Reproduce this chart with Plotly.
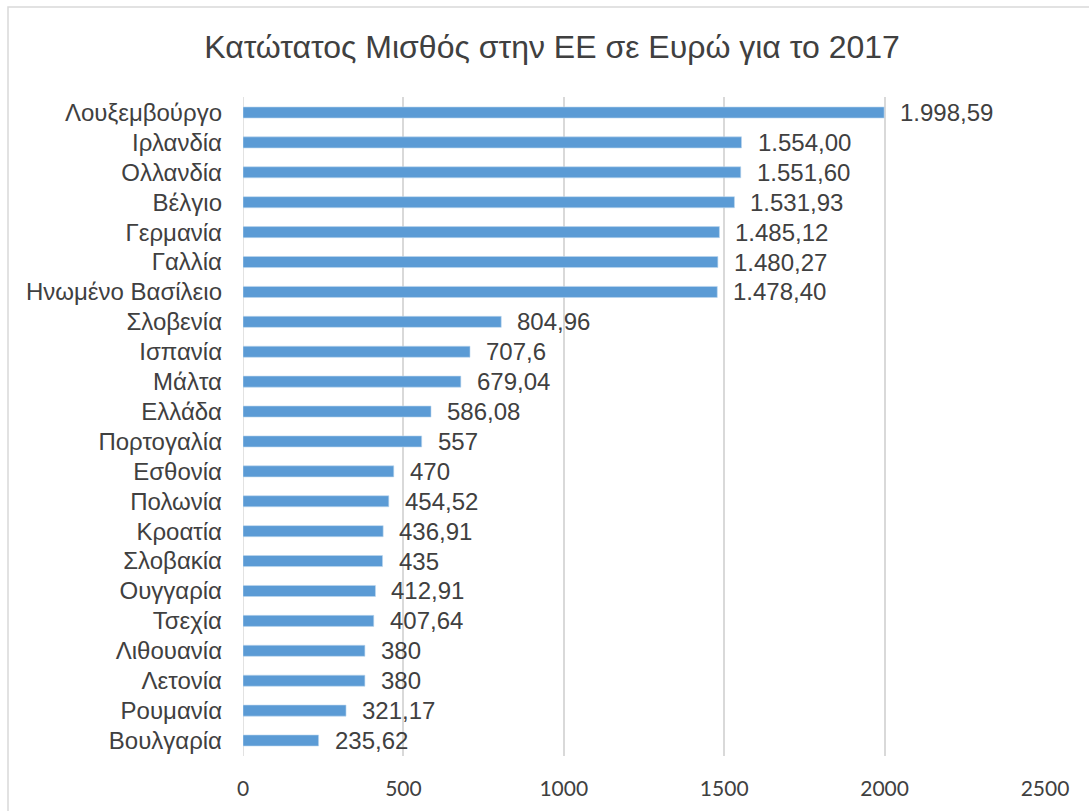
import plotly.graph_objects as go

countries = ["Λουξεμβούργο", "Ιρλανδία", "Ολλανδία", "Βέλγιο", "Γερμανία", "Γαλλία",
             "Ηνωμένο Βασίλειο", "Σλοβενία", "Ισπανία", "Μάλτα", "Ελλάδα", "Πορτογαλία",
             "Εσθονία", "Πολωνία", "Κροατία", "Σλοβακία", "Ουγγαρία", "Τσεχία",
             "Λιθουανία", "Λετονία", "Ρουμανία", "Βουλγαρία"]
wages = [1998.59, 1554.00, 1551.60, 1531.93, 1485.12, 1480.27, 1478.40, 804.96, 707.6,
         679.04, 586.08, 557, 470, 454.52, 436.91, 435, 412.91, 407.64, 380, 380,
         321.17, 235.62]
labels = ["1.998,59", "1.554,00", "1.551,60", "1.531,93", "1.485,12", "1.480,27",
          "1.478,40", "804,96", "707,6", "679,04", "586,08", "557", "470", "454,52",
          "436,91", "435", "412,91", "407,64", "380", "380", "321,17", "235,62"]
x_ticks = [0, 500, 1000, 1500, 2000, 2500]

fig = go.Figure()
fig.add_trace(go.Bar(
    y=countries, x=wages, orientation="h",
    marker=dict(color="#5B9BD5", line=dict(color="#BDD7EE", width=0.6)),
    width=0.37, hoverinfo="skip",
))

for c, v, t in zip(countries, wages, labels):
    fig.add_annotation(x=v, y=c, text=t, showarrow=False, xanchor="left",
                       xshift=14, font=dict(family="Liberation Sans, Arial", size=24, color="#404040"))

fig.add_shape(type="rect", xref="paper", yref="paper",
              x0=(8 - 243) / 802, x1=(1110 - 243) / 802,
              y0=1 - (840 - 97) / 659, y1=1 + (97 - 7) / 659,
              line=dict(color="#D9D9D9", width=1.5), fillcolor="rgba(0,0,0,0)", layer="below")

fig.update_layout(
    width=1089, height=811,
    margin=dict(l=243, r=44, t=97, b=55),
    paper_bgcolor="white", plot_bgcolor="white",
    showlegend=False,
    title=dict(text="Κατώτατος Μισθός στην ΕΕ σε Ευρώ για το 2017",
               x=552 / 1089, xanchor="center", y=1 - 47 / 811, yanchor="middle",
               font=dict(family="Liberation Sans, Arial", size=32, color="#404040")),
    xaxis=dict(range=[0, 2500], tickvals=x_ticks, ticktext=[str(v) for v in x_ticks],
               showgrid=True, gridcolor="#D9D9D9", gridwidth=1.5, zeroline=False,
               showline=False, ticks="", ticklabelstandoff=18,
               tickfont=dict(family="Lato, Carlito, Calibri", size=21, color="#404040")),
    yaxis=dict(autorange="reversed", showgrid=False, zeroline=False, showline=False,
               ticks="", ticklabelstandoff=20,
               tickfont=dict(family="Liberation Sans, Arial", size=24, color="#404040")),
)
fig.add_vline(x=0, line=dict(color="#D9D9D9", width=1.5), layer="below")

fig.write_html("out.html", config={"displayModeBar": False},
               post_script="document.body.style.margin='0';document.body.style.overflow='hidden';")
